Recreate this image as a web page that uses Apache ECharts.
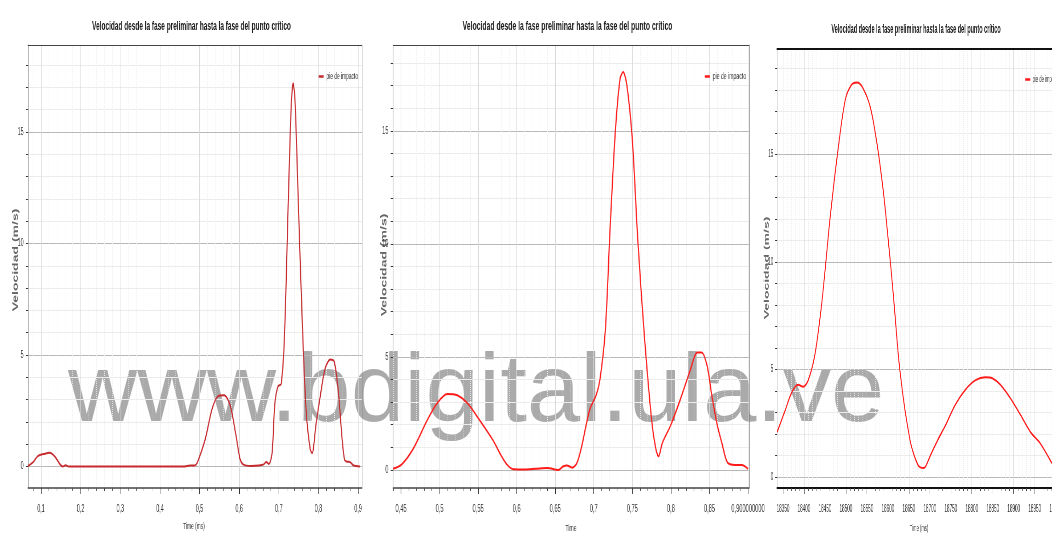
<!DOCTYPE html>
<html>
<head>
<meta charset="utf-8">
<script src="https://cdn.jsdelivr.net/npm/echarts@6.0.0/dist/echarts.min.js"></script>
<style>
  html, body { margin: 0; padding: 0; background: #fff; }
  #wrap { position: relative; width: 1052px; height: 546px; overflow: hidden; background: #fff; }
  .layer { position: absolute; left: 0; top: 0; height: 546px; transform-origin: 0 0; }
</style>
</head>
<body>
<div id="wrap">
  <div id="wm" class="layer" style="width:1052px"></div>
  <div id="c1" class="layer"></div>
  <div id="c2" class="layer"></div>
  <div id="c3" class="layer"></div>
</div>
<script>
const FONT = '"Liberation Sans", Arial, sans-serif';
const TITLE = 'Velocidad desde la fase preliminar hasta la fase del punto crítico';
const SERIES_NAME = 'pie de impacto';
const Y_NAME = 'Velocidad (m/s)';

// eje Y (igual en los tres)
const yTicks = [0, 5, 10, 15];
const yLabels = ['0', '5', '10', '15'];

// panel 1
const p1XTicks = [0.1, 0.2, 0.3, 0.4, 0.5, 0.6, 0.7, 0.8, 0.9];
const p1XLabels = ['0,1', '0,2', '0,3', '0,4', '0,5', '0,6', '0,7', '0,8', '0,9'];
const p1Time = [0.067, 0.08, 0.092, 0.11, 0.122, 0.135, 0.148, 0.155, 0.162, 0.17, 0.2, 0.3, 0.4, 0.46, 0.476, 0.488,
  0.496, 0.514, 0.532, 0.547, 0.562, 0.577, 0.592, 0.602, 0.61, 0.63, 0.65, 0.662, 0.668, 0.675, 0.683, 0.69, 0.698,
  0.706, 0.714, 0.724, 0.731, 0.736, 0.741, 0.749, 0.759, 0.769, 0.779, 0.784, 0.794, 0.805, 0.817, 0.83, 0.84, 0.85,
  0.86, 0.866, 0.872, 0.88, 0.888, 0.905];
const p1Vel = [0.02, 0.2, 0.47, 0.58, 0.62, 0.45, 0.1, 0.0, 0.06, 0.0, 0.0, 0.0, 0.0, 0.0, 0.05, 0.05,
  0.25, 1.2, 2.6, 3.16, 3.2, 2.76, 1.4, 0.35, 0.1, 0.03, 0.05, 0.1, 0.2, 0.12, 0.6, 2.8, 3.6,
  3.7, 5.7, 11.9, 16.0, 17.2, 16.4, 12.0, 6.6, 2.5, 0.8, 0.6, 1.9, 3.2, 4.4, 4.8, 4.7, 3.4,
  1.2, 0.3, 0.22, 0.2, 0.06, 0.0];

// panel 2
const p2XTicks = [0.45, 0.5, 0.55, 0.6, 0.65, 0.7, 0.75, 0.8, 0.85, 0.9];
const p2XLabels = ['0,45', '0,5', '0,55', '0,6', '0,65', '0,7', '0,75', '0,8', '0,85', '0,900000000'];
const p2Time = [0.4396, 0.451, 0.466, 0.484, 0.497, 0.51, 0.523, 0.536, 0.552, 0.569, 0.578, 0.587, 0.596, 0.61,
  0.625, 0.64, 0.654, 0.66, 0.665, 0.672, 0.678, 0.684, 0.689, 0.695, 0.703, 0.708, 0.715, 0.721, 0.728, 0.734,
  0.738, 0.743, 0.75, 0.757, 0.766, 0.775, 0.78, 0.784, 0.789, 0.8, 0.812, 0.825, 0.834, 0.84, 0.847, 0.853, 0.86,
  0.866, 0.873, 0.883, 0.892, 0.9];
const p2Vel = [0.05, 0.25, 0.95, 2.2, 2.96, 3.36, 3.3, 2.96, 2.2, 1.33, 0.75, 0.25, 0.03, 0.02,
  0.05, 0.08, 0.0, 0.15, 0.2, 0.1, 0.3, 1.0, 1.8, 2.7, 3.3, 4.0, 6.2, 10.6, 15.0, 17.3,
  17.6, 17.0, 14.6, 10.2, 5.75, 2.2, 1.0, 0.6, 1.2, 2.0, 3.1, 4.4, 5.2, 5.2, 4.6, 3.3, 2.0,
  1.2, 0.35, 0.22, 0.22, 0.05];

// panel 3
const p3XTicks = [18350, 18400, 18450, 18500, 18550, 18600, 18650, 18700, 18750, 18800, 18850, 18900, 18950, 19000];
const p3XLabels = ['18350', '18400', '18450', '18500', '18550', '18600', '18650', '18700', '18750', '18800', '18850',
  '18900', '18950', '19000'];
const p3Time = [18336, 18355, 18371, 18386, 18398, 18410, 18426, 18443, 18462, 18481, 18498, 18512, 18526, 18540,
  18558, 18574, 18589, 18600, 18612, 18629, 18653, 18672, 18686, 18701, 18718, 18737, 18760, 18784, 18808, 18832,
  18849, 18868, 18892, 18916, 18940, 18963, 18991];
const p3Vel = [2.1, 3.1, 3.95, 4.3, 4.2, 4.5, 5.7, 8.2, 12.0, 15.2, 17.5, 18.2, 18.34, 18.1,
  17.2, 15.5, 13.3, 11.2, 8.7, 4.9, 1.7, 0.56, 0.43, 1.0, 1.7, 2.4, 3.35, 4.05, 4.5, 4.65,
  4.6, 4.3, 3.67, 2.9, 2.1, 1.58, 0.65];

// minor tick positions between the labelled ones
function minorSteps(min, max, step, skip) {
  const out = [];
  for (let k = Math.ceil(min / step - 1e-9); k * step <= max + 1e-9; k++) {
    const v = +(k * step).toFixed(6);
    if (!skip.some(s => Math.abs(s - v) < 1e-9)) out.push(v);
  }
  return out;
}

function panelOption(p) {
  const X = v => v / p.s;   // screen px -> unsquished px
  const xMinor = minorSteps(p.xMin, p.xMax, p.xStep, p.xTicks);
  const yMinor = minorSteps(p.yMin, p.yMax, 1, yTicks);
  const pick = (ticks, labels) => v => {
    const i = ticks.findIndex(t => Math.abs(t - v) < 1e-6);
    return i < 0 ? '' : labels[i];
  };
  const xb = { type: 'value', min: p.xMin, max: p.xMax };
  const yb = { type: 'value', min: p.yMin, max: p.yMax };
  return {
    animation: false,
    backgroundColor: 'transparent',
    grid: {
      left: X(p.left), top: p.top, width: X(p.right - p.left), height: p.bottom - p.top,
      containLabel: false, outerBoundsMode: 'none', show: false
    },
    legend: {
      left: X(p.legX), top: p.legY - 6, icon: 'rect', itemWidth: X(5), itemHeight: 2.5,
      textStyle: { fontSize: 9, color: '#333', fontFamily: FONT }, data: [SERIES_NAME]
    },
    xAxis: [
      { ...xb, position: 'bottom',
        axisLine: { onZero: false, lineStyle: { color: p.axisColor, width: p.axisWidth } },
        axisTick: { customValues: p.xTicks, length: 6, lineStyle: { color: '#333' } },
        axisLabel: { customValues: p.xTicks, formatter: pick(p.xTicks, p.xLabels), margin: 16,
          fontSize: p.xFs, color: '#333', fontFamily: FONT },
        splitLine: { show: true, lineStyle: { color: '#dadada' } } },
      { ...xb, position: 'bottom',
        axisLine: { show: false, onZero: false },
        axisTick: { customValues: xMinor, length: 3, lineStyle: { color: '#444' } },
        axisLabel: { show: false },
        splitLine: { show: true, lineStyle: { color: '#ececec', type: 'dotted' } } },
      { ...xb, position: 'top',
        axisLine: { show: true, onZero: false, lineStyle: { color: p.topColor, width: p.topWidth } },
        axisTick: { show: false }, axisLabel: { show: false }, splitLine: { show: false } }
    ],
    yAxis: [
      { ...yb, position: 'left',
        axisLine: { show: true, onZero: false, lineStyle: { color: '#a0a0a0' } },
        axisTick: { show: true, customValues: yTicks, length: 4, lineStyle: { color: '#333' } },
        axisLabel: { customValues: yTicks, formatter: pick(yTicks, yLabels), margin: 8,
          fontSize: 10, color: '#333', fontFamily: FONT },
        splitLine: { show: true, lineStyle: { color: '#b8b8b8' } } },
      { ...yb, position: 'left',
        axisLine: { show: false, onZero: false },
        axisTick: { show: true, customValues: yMinor, length: 4, lineStyle: { color: '#333' } },
        axisLabel: { show: false },
        splitLine: { show: true, lineStyle: { color: '#ececec' } } },
      { ...yb, position: 'right',
        axisLine: { show: p.rightBorder, onZero: false, lineStyle: { color: '#777' } },
        axisTick: { show: false }, axisLabel: { show: false }, splitLine: { show: false } }
    ],
    graphic: [
      { type: 'text', x: X(p.titleX), y: p.titleY,
        style: { text: TITLE, font: 'bold 12px ' + FONT, fill: '#1a1a1a',
          align: 'center', verticalAlign: 'middle', textAlign: 'center', textVerticalAlign: 'middle' } },
      { type: 'text', x: X(p.yNameX), y: p.yNameY, rotation: Math.PI / 2,
        style: { text: Y_NAME, font: 'bold 14px ' + FONT, fill: '#666',
          align: 'center', verticalAlign: 'middle', textAlign: 'center', textVerticalAlign: 'middle' } },
      { type: 'text', x: X(p.xNameX), y: p.xNameY,
        style: { text: p.xName, font: '9px ' + FONT, fill: '#333',
          align: 'center', verticalAlign: 'middle', textAlign: 'center', textVerticalAlign: 'middle' } }
    ],
    series: [{
      name: SERIES_NAME, type: 'line', xAxisIndex: 0, yAxisIndex: 0,
      showSymbol: false, smooth: 0.3,
      lineStyle: { color: p.color, width: p.lineWidth },
      itemStyle: { color: p.color },
      data: p.time.map((t, i) => [t, p.vel[i]])
    }]
  };
}

const panels = [
  { id: 'c1', s: 0.54, left: 28, right: 362, top: 45, bottom: 488,
    xMin: 0.0672, xMax: 0.910, xStep: 0.02, xTicks: p1XTicks, xLabels: p1XLabels, xFs: 10,
    yMin: -0.96, yMax: 18.9, titleX: 191.5, titleY: 27, legX: 316, legY: 73,
    yNameX: 16, yNameY: 260, xNameX: 194, xNameY: 527, xName: 'Time (ms)',
    axisColor: '#444', axisWidth: 1.5, topColor: '#444', topWidth: 1, rightBorder: true,
    color: '#c62a2f', lineWidth: 2, time: p1Time, vel: p1Vel },
  { id: 'c2', s: 0.57, left: 393, right: 749, top: 45, bottom: 488,
    xMin: 0.4396, xMax: 0.9013, xStep: 0.01, xTicks: p2XTicks, xLabels: p2XLabels, xFs: 10,
    yMin: -0.8, yMax: 18.8, titleX: 567.5, titleY: 27, legX: 702, legY: 73,
    yNameX: 384, yNameY: 265, xNameX: 571, xNameY: 529, xName: 'Time',
    axisColor: '#444', axisWidth: 1.5, topColor: '#444', topWidth: 1, rightBorder: true,
    color: '#ff1a1a', lineWidth: 2, time: p2Time, vel: p2Vel },
  { id: 'c3', s: 0.46, left: 777, right: 1067, top: 49, bottom: 488,
    xMin: 18335.7, xMax: 19027, xStep: 10, xTicks: p3XTicks, xLabels: p3XLabels, xFs: 10,
    yMin: -0.5, yMax: 19.9, titleX: 916, titleY: 29.5, legX: 1023, legY: 76,
    yNameX: 767, yNameY: 268, xNameX: 919, xNameY: 529, xName: 'Time (ms)',
    axisColor: '#111', axisWidth: 2, topColor: '#111', topWidth: 2, rightBorder: false,
    color: '#ff1a1a', lineWidth: 2, time: p3Time, vel: p3Vel }
];

panels.forEach(p => {
  const el = document.getElementById(p.id);
  el.style.width = (1052 / p.s) + 'px';
  el.style.transform = 'scaleX(' + p.s + ')';
  const chart = echarts.init(el, null, { renderer: 'canvas' });
  chart.setOption(panelOption(p));
});

// marca de agua
const wm = echarts.init(document.getElementById('wm'));
wm.setOption({
  animation: false,
  graphic: [{
    type: 'text', x: 68, y: 395,
    style: { text: 'www.bdigital.ula.ve', font: '96px ' + FONT, fill: '#aaaaaa',
      verticalAlign: 'middle', textVerticalAlign: 'middle' }
  }]
});
</script>
</body>
</html>
